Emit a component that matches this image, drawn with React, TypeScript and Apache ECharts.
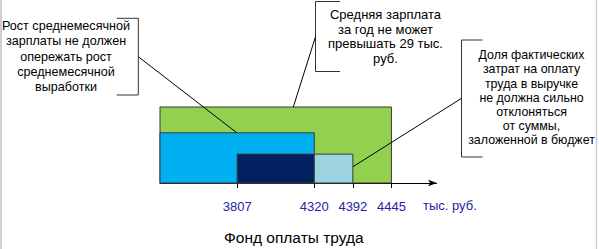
import React, { useEffect, useRef } from "react";
import * as echarts from "echarts";

// ---- data ----
const tickLabels = ["", "", "3807", "", "4320", "4392", "4445", ""];
const blockFrom = [0, 0, 3807, 4320];
const blockTo = [4445, 4320, 4320, 4392];
const blockLevel = [1, 0.66, 0.38, 0.38];
const unitLabel = "тыс. руб.";
const axisTitle = "Фонд оплаты труда";
const calloutLeft = ["Рост среднемесячной", "зарплаты не должен", "опережать рост", "среднемесячной", "выработки"];
const calloutMid = ["Средняя зарплата", "за год не может", "превышать 29 тыс.", "руб."];
const calloutRight = ["Доля фактических", "затрат на оплату", "труда в выручке", "не должна сильно", "отклоняться", "от суммы,", "заложенной в бюджет"];

// ---- styles ----
const FONT = "Liberation Sans, Arial, sans-serif";
const blockColors = ["#92d050", "#00b0f0", "#002060", "#9dd3e0"];
const tickColor = "#2424a4";

const idx = (v: number) => {
  const i = tickLabels.indexOf(String(v));
  return i < 0 ? 0 : i;
};

export default function App() {
  const ref = useRef<HTMLDivElement>(null);
  useEffect(() => {
    if (!ref.current) return;
    const chart = echarts.init(ref.current, null, { renderer: "svg" });
    const data = blockFrom.map((f, i) => [idx(f), idx(blockTo[i]), blockLevel[i], i]);
    const textStyle = (lines: string[], lh: number, fs: number) => ({
      text: lines.join("\n"),
      fill: "#000",
      fontSize: fs,
      lineHeight: lh,
      align: "center",
      verticalAlign: "top",
      fontFamily: FONT,
    });
    const bracket = (pts: number[][]) => ({
      type: "polyline",
      z: 100,
      shape: { points: pts },
      style: { stroke: "#333", lineWidth: 1, fill: null },
    });
    const line = (x1: number, y1: number, x2: number, y2: number) => ({
      type: "line",
      z: 100,
      shape: { x1, y1, x2, y2 },
      style: { stroke: "#000", lineWidth: 1 },
    });
    chart.setOption({
      animation: false,
      grid: { left: 160, top: 107, width: 270, height: 76 },
      xAxis: {
        type: "category",
        data: tickLabels,
        boundaryGap: false,
        axisLine: {
          show: true,
          lineStyle: { color: "#000", width: 1 },
          symbol: ["none", "arrow"],
          symbolSize: [5, 9],
          symbolOffset: [0, 7],
        },
        axisTick: {
          show: true,
          length: 5,
          lineStyle: { color: "#000" },
          interval: (_i: number, v: string) => v !== "",
        },
        axisLabel: {
          interval: 0,
          color: tickColor,
          fontSize: 13,
          fontFamily: FONT,
          margin: 17,
        },
        splitLine: { show: false },
      },
      yAxis: { type: "value", min: 0, max: 1, show: false },
      series: [
        {
          type: "custom",
          data,
          encode: { x: [0, 1], y: 2 },
          renderItem: (_params: any, api: any) => {
            const p0 = api.coord([api.value(0), 0]);
            const p1 = api.coord([api.value(1), api.value(2)]);
            return {
              type: "rect",
              shape: { x: p0[0], y: p1[1], width: p1[0] - p0[0], height: p0[1] - p1[1] },
              style: { fill: blockColors[api.value(3)], stroke: "#3a3a3a", lineWidth: 1 },
            };
          },
        },
      ],
      graphic: [
        { type: "line", z: 100, shape: { x1: 1, y1: 0, x2: 1, y2: 249 }, style: { stroke: "#cfcfcf", lineWidth: 2 } },
        { type: "line", z: 100, shape: { x1: 596.5, y1: 0, x2: 596.5, y2: 249 }, style: { stroke: "#cfcfcf", lineWidth: 1.5 } },
        { type: "line", z: 100, shape: { x1: 429, y1: 183.5, x2: 437, y2: 183.5 }, style: { stroke: "#000", lineWidth: 1 } },
        { type: "text", z: 100, x: 66, y: 18.4, style: textStyle(calloutLeft, 15.3, 12.6) },
        bracket([[116.7, 18.3], [138.3, 18.3], [138.3, 95], [116.7, 95]]),
        line(138.3, 56.7, 236.7, 132.7),
        { type: "text", z: 100, x: 385.5, y: 7.3, style: textStyle(calloutMid, 14.5, 13) },
        bracket([[340, 1.5], [315.5, 1.5], [315.5, 71.5], [340, 71.5]]),
        line(315.5, 36.7, 293.3, 107),
        { type: "text", z: 100, x: 531.5, y: 48, style: textStyle(calloutRight, 14.2, 12.4) },
        bracket([[482.5, 40], [461.5, 40], [461.5, 157], [482.5, 157]]),
        line(461.5, 98.3, 353, 166.7),
        {
          type: "text",
          z: 100,
          x: 423,
          y: 205,
          style: { text: unitLabel, fill: tickColor, fontSize: 13, fontFamily: FONT, align: "left", verticalAlign: "middle" },
        },
        {
          type: "text",
          z: 100,
          x: 224,
          y: 237,
          style: { text: axisTitle, fill: "#000", fontSize: 15.5, fontFamily: FONT, align: "left", verticalAlign: "middle" },
        },
      ],
    });
    return () => chart.dispose();
  }, []);
  return <div ref={ref} style={{ position: "absolute", left: 0, top: 0, width: 599, height: 249 }} />;
}
